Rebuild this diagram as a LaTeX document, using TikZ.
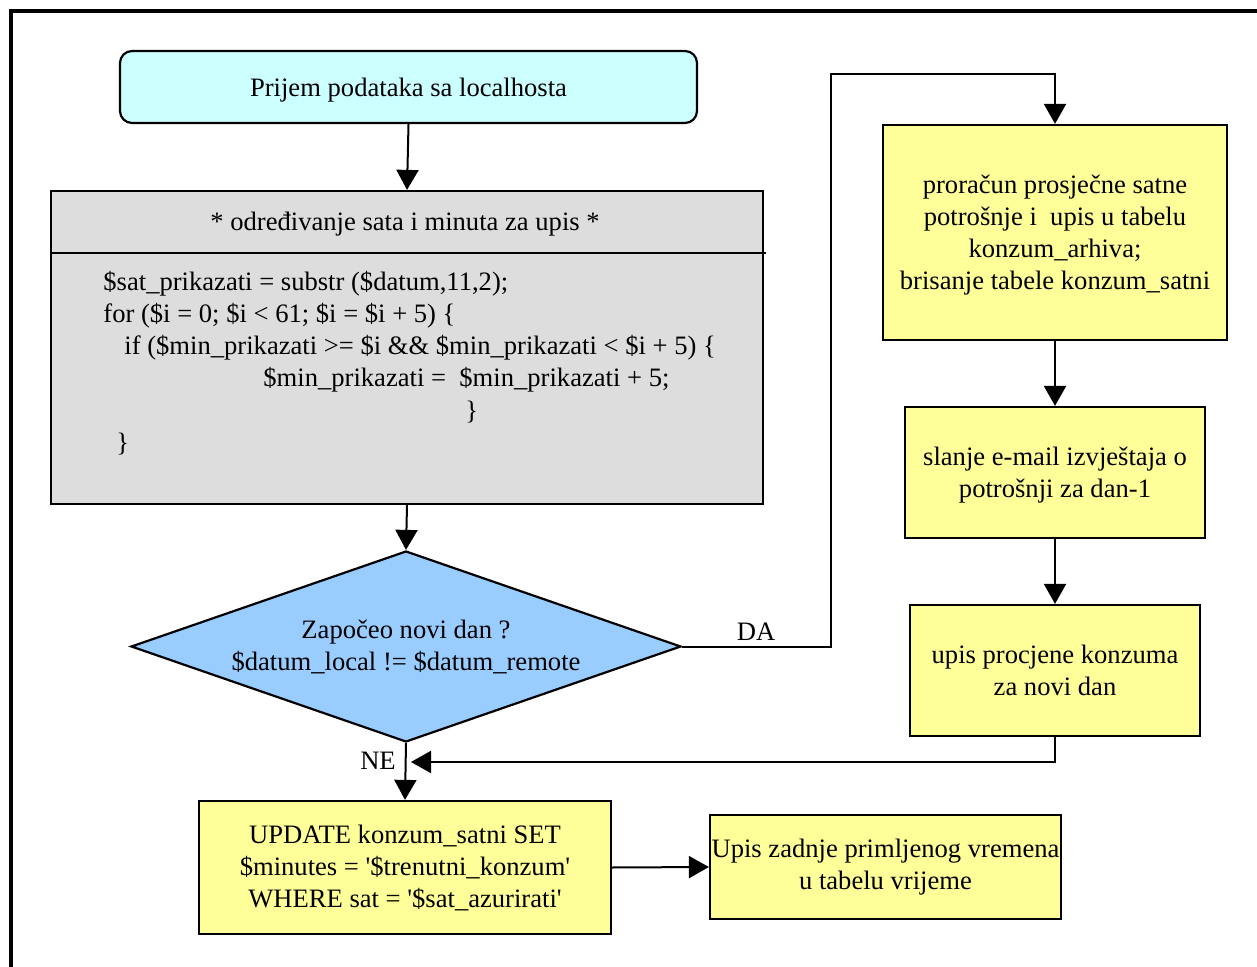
\documentclass[tikz,border=0pt]{standalone}
\usepackage{fontspec}
\setmainfont{Liberation Serif}
\usetikzlibrary{arrows.meta,shapes.geometric}
\definecolor{startcyan}{HTML}{CCFFFF}
\definecolor{codegray}{HTML}{DDDDDD}
\definecolor{decblue}{HTML}{99CCFF}
\definecolor{stepyellow}{HTML}{FFFF99}
\tikzset{
  box/.style={draw=black, line width=1.1pt, inner sep=0pt},
  flow/.style={draw=black, line width=1pt, -{Triangle[length=10pt,width=11pt]}},
  plain/.style={draw=black, line width=1.1pt},
  codeline/.style={anchor=west, inner sep=0pt, font=\fontsize{13.3pt}{16pt}\selectfont},
  lbl/.style={inner sep=0pt, align=center, font=\fontsize{13.3pt}{16pt}\selectfont},
  boxtext/.style={lbl, yshift=-1.5pt}
}
\begin{document}
\begin{tikzpicture}[x=0.5pt, y=-0.5pt]
\useasboundingbox (0,0) rectangle (1257,967);
% open frame: top and left edges only
\draw[line width=1.6pt] (1257,11) -- (11,11) -- (11,967);

% start box
\node[box, fill=startcyan, rounded corners=6pt, minimum width=288.5pt, minimum height=36pt]
  (start) at (408.5,87) {};
\node[boxtext] (startT) at (start.center) {Prijem podataka sa localhosta};

% code block
\node[box, fill=codegray, minimum width=356pt, minimum height=156.5pt]
  (code) at (407,347.5) {};
\coordinate (divL) at (51,253);
\coordinate (divR) at (766,253);
\draw[plain] (divL) -- (divR);
\node[lbl] (codetitle) at (405,224) {* određivanje sata i minuta za upis *};
\node[codeline] (c1) at (103,284) {\$sat\_prikazati = substr (\$datum,11,2);};
\node[codeline] (c2) at (103,316) {for (\$i = 0; \$i < 61; \$i = \$i + 5) \{};
\node[codeline] (c3) at (124,348) {if (\$min\_prikazati >= \$i \&\& \$min\_prikazati < \$i + 5) \{};
\node[codeline] (c4) at (263,380) {\$min\_prikazati = \ \$min\_prikazati + 5;};
\node[codeline] (c5) at (465,412) {\}};
\node[codeline] (c6) at (116,444) {\}};

% decision
\node[box, diamond, fill=decblue, minimum width=275pt, minimum height=95.5pt]
  (dec) at (406,646.5) {};
\node[lbl] (dectext) at (dec.center)
  {Započeo novi dan ?\\\$datum\_local != \$datum\_remote};

% right column
\node[box, fill=stepyellow, minimum width=172pt, minimum height=107.5pt]
  (calc) at (1055,232.5) {};
\node[boxtext] (calcT) at (calc.center)
  {proračun prosječne satne\\potrošnje i\ \ upis u tabelu\\konzum\_arhiva;\\brisanje tabele konzum\_satni};
\node[box, fill=stepyellow, minimum width=150pt, minimum height=65.5pt]
  (mail) at (1055,472.5) {};
\node[boxtext] (mailT) at (mail.center) {slanje e-mail izvještaja o\\potrošnji za dan-1};
\node[box, fill=stepyellow, minimum width=145pt, minimum height=65.5pt]
  (est) at (1055,670.5) {};
\node[lbl] (estT) at (est.center) {upis procjene konzuma\\za novi dan};

% bottom row
\node[box, fill=stepyellow, minimum width=206pt, minimum height=66.5pt]
  (upd) at (405,867.5) {};
\node[lbl] (updT) at (upd.center)
  {UPDATE konzum\_satni SET\\\$minutes = \textquotesingle\$trenutni\_konzum\textquotesingle\\WHERE sat = \textquotesingle\$sat\_azurirati\textquotesingle};
\node[box, fill=stepyellow, minimum width=175.5pt, minimum height=52pt]
  (last) at (885.5,867) {};
\node[lbl] (lastT) at (last.center) {Upis zadnje primljenog vremena\\u tabelu vrijeme};

% connectors
\draw[flow] (start.south) -- (code.north);
\draw[flow] (code.south) -- (dec.north);
\coordinate (daturn) at (831,74);
\draw[flow] (dec.east) -| (daturn) -| (calc.north);
\node[lbl] (da) at (756,632) {DA};
\draw[flow] (calc.south) -- (mail.north);
\draw[flow] (mail.south) -- (est.north);
\coordinate (merge) at (411,762);
\draw[flow] (est.south) |- (merge);
\draw[flow] (dec.south) -- (upd.north);
\node[lbl] (ne) at (378,761) {NE};
\draw[flow] (upd.east) -- (last.west);
\end{tikzpicture}
\end{document}
